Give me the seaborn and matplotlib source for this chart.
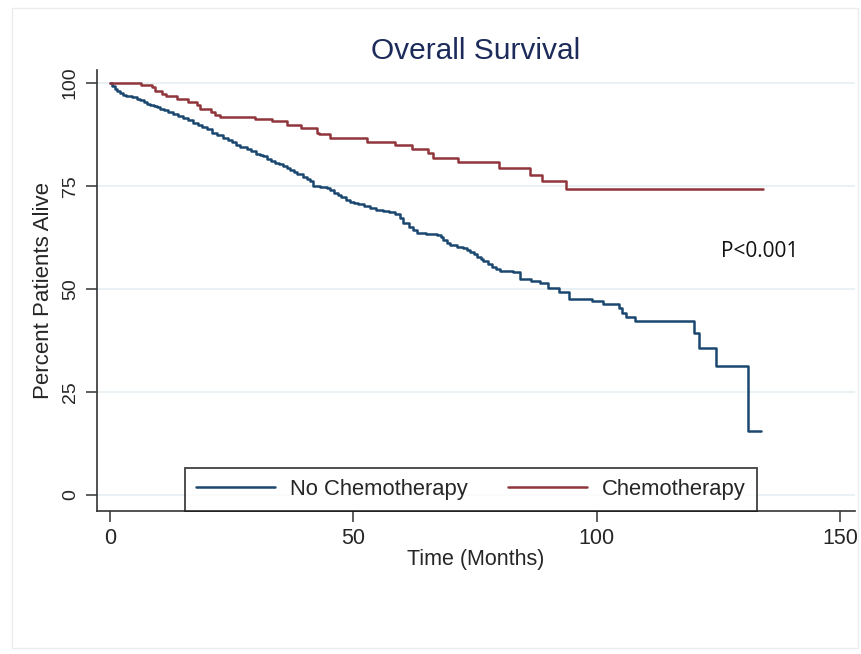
import numpy as np
import pandas as pd
import matplotlib
matplotlib.use("Agg")
import matplotlib.pyplot as plt
from matplotlib.lines import Line2D
from matplotlib.patches import Rectangle
import seaborn as sns

# Kaplan-Meier steps (months, percent alive)
no_chemo_time = [0, 0.5, 1.0, 1.5, 2.0, 2.6, 3.2, 4.0, 4.5, 5.5, 6.2, 7.0, 7.6, 8.2, 9.0, 9.6,
                 10.3, 11.0, 12.0, 13.0, 14.0, 15.0, 16.0, 17.1, 18.0, 19.0, 20.0, 21.0,
                 21.9, 23.3, 24.2, 25.0, 25.8, 26.7, 28.1, 29.0, 30.0, 30.8, 31.5, 32.3,
                 33.0, 34.0, 34.8, 35.6, 36.3, 37.0, 37.8, 38.5, 39.7, 40.4, 41.0, 41.8,
                 43.2, 44.5, 45.3, 46.0, 46.8, 47.5, 48.4, 49.3, 50.2, 51.0, 52.2, 53.4,
                 54.7, 56.0, 57.3, 58.6, 59.5, 60.3, 61.5, 62.2, 63.0, 65.0, 67.2, 68.0,
                 68.5, 69.2, 69.9, 71.3, 72.6, 73.3, 74.0, 74.8, 75.5, 76.2, 76.7, 77.6,
                 78.5, 79.4, 80.2, 82.9, 84.3, 86.5, 88.4, 90.1, 92.2, 94.4, 99.0, 101.4,
                 104.5, 105.2, 106.1, 107.9, 120.0, 121.0, 124.5, 131.1, 133.8]
no_chemo_surv = [100, 99.3, 98.6, 98.0, 97.6, 97.2, 97.0, 96.8, 96.6, 96.1, 95.8, 95.4, 95.0, 94.7,
                 94.4, 94.2, 93.8, 93.4, 93.0, 92.5, 92.1, 91.6, 91.0, 90.3, 89.8, 89.4, 88.8, 88.0,
                 87.4, 86.8, 86.2, 85.6, 85.1, 84.6, 84.0, 83.5, 82.9, 82.6, 82.2, 81.7,
                 81.2, 80.6, 80.3, 79.9, 79.4, 78.9, 78.4, 78.0, 77.3, 76.8, 76.2, 75.1,
                 74.8, 74.5, 74.0, 73.4, 72.8, 72.3, 71.7, 71.2, 70.9, 70.6, 70.1, 69.6,
                 69.3, 69.0, 68.6, 68.3, 67.2, 66.0, 65.0, 64.3, 63.7, 63.4, 63.2, 62.6,
                 62.0, 61.3, 60.7, 60.3, 59.9, 59.5, 59.0, 58.4, 57.8, 57.2, 56.7, 56.0,
                 55.4, 54.9, 54.5, 54.2, 52.4, 52.0, 51.4, 50.2, 49.4, 47.6, 47.0, 46.3,
                 45.3, 44.1, 43.2, 42.3, 39.4, 35.6, 31.2, 15.5, 15.5]

chemo_time = [0, 6.3, 8.6, 9.25, 10.6, 11.5, 13.8, 16.1, 17.9, 18.5, 20.7, 21.6, 22.6,
              29.8, 33.2, 36.3, 39.2, 42.6, 43.0, 45.2, 52.9, 58.6, 62.0, 65.4, 66.3,
              71.6, 80.0, 86.3, 88.7, 93.7, 134.2]
chemo_surv = [100, 99.6, 99.0, 98.2, 97.4, 96.8, 96.1, 95.5, 94.7, 93.7, 92.9, 92.3, 91.9,
              91.2, 90.7, 89.9, 89.1, 87.9, 87.6, 86.8, 85.8, 84.9, 84.0, 83.0, 81.9,
              80.8, 79.3, 77.7, 76.3, 74.3, 74.3]

groups = ["No Chemotherapy", "Chemotherapy"]
colors = {"No Chemotherapy": "#1a476f", "Chemotherapy": "#90353b"}
y_ticks = [0, 25, 50, 75, 100]
x_ticks = [0, 50, 100, 150]

df = pd.concat([
    pd.DataFrame({"time": no_chemo_time, "surv": no_chemo_surv, "group": groups[0]}),
    pd.DataFrame({"time": chemo_time, "surv": chemo_surv, "group": groups[1]}),
])

sns.set_style("white")
plt.rcParams["font.family"] = ["Liberation Sans", "DejaVu Sans"]

fig = plt.figure(figsize=(8.62, 6.54), dpi=100)
ax = fig.add_axes([0.1125, 0.2187, 0.8795, 0.6743])

# faint outer frame of the graph region
fig.patches.append(Rectangle((12 / 862, 6 / 654), 846 / 862, 640 / 654,
                             transform=fig.transFigure, fill=False,
                             edgecolor="#ececec", linewidth=1))

for y in y_ticks:
    ax.axhline(y, color="#e6eff2", linewidth=1.2, zorder=0)

sns.lineplot(data=df, x="time", y="surv", hue="group", palette=colors,
             estimator=None, drawstyle="steps-post", linewidth=1.8,
             legend=False, ax=ax)

ax.set_xlim(-2.67, 153.1)
ax.set_ylim(-3.9, 103.2)
ax.set_xticks(x_ticks)
ax.set_yticks(y_ticks)
ax.set_yticklabels([str(v) for v in y_ticks], rotation=90, va="center")
ax.tick_params(axis="x", labelsize=15.5, length=8, width=1.1, color="#333333", pad=4, direction="out", bottom=True)
ax.tick_params(axis="y", labelsize=14, length=8, width=1.1, color="#333333", pad=5, direction="out", left=True)

for side in ["top", "right"]:
    ax.spines[side].set_visible(False)
for side in ["left", "bottom"]:
    ax.spines[side].set_color("#333333")
    ax.spines[side].set_linewidth(1.2)

ax.set_xlabel("Time (Months)", fontsize=15.5, labelpad=0)
ax.set_ylabel("Percent Patients Alive", fontsize=16, labelpad=6)
ax.set_title("Overall Survival", fontsize=21.5, color="#1c2b5a", pad=8)

ax.text(0.823, 0.575, "P<0.001", transform=ax.transAxes, fontsize=15,
        family=["Open Sans", "DejaVu Sans"], color="#111111")

handles = [Line2D([0], [0], color=colors[g], linewidth=1.8) for g in groups]
leg = ax.legend(handles, groups, loc="lower left", bbox_to_anchor=(0.116, 0.0),
                ncol=2, fontsize=15.8, frameon=True, fancybox=False,
                handlelength=3.6, columnspacing=1.8, handletextpad=0.7,
                borderaxespad=0, borderpad=0.5)
leg.get_frame().set_edgecolor("#111111")
leg.get_frame().set_linewidth(1.3)

fig.savefig("out.png", dpi=100)
